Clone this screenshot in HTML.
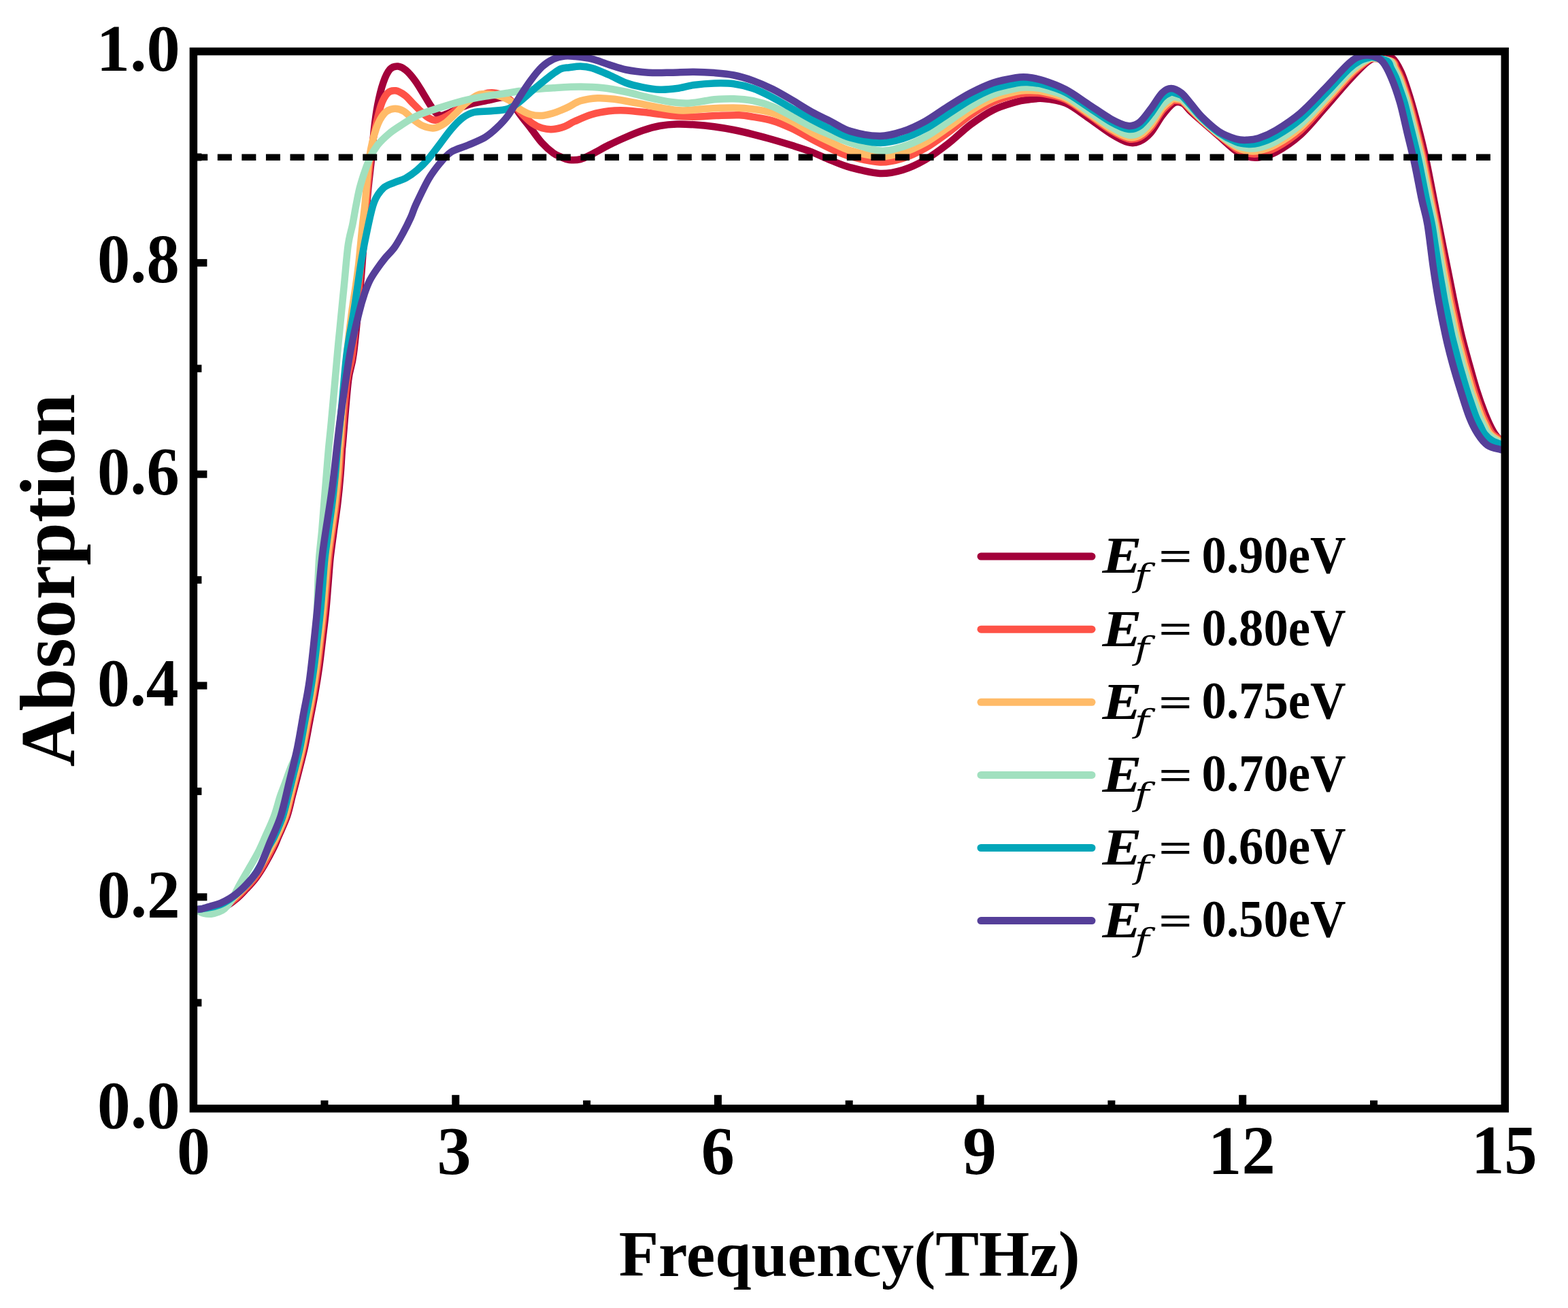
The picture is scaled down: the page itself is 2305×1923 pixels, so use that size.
<!DOCTYPE html>
<html><head><meta charset="utf-8"><title>Absorption vs Frequency</title>
<style>
html,body{margin:0;padding:0;background:#fff;}
body{width:2305px;height:1923px;overflow:hidden;}
svg{display:block;}
text{font-family:"Liberation Serif","Times New Roman",serif;fill:#000;}
</style></head>
<body>
<svg width="2305" height="1923" viewBox="0 0 2305 1923">
<rect width="2305" height="1923" fill="#fff"/>
<g fill="none" stroke-width="10.5" stroke-linejoin="round" stroke-linecap="butt">
<path d="M291.0 1337.0 C295.0 1336.8 308.3 1336.7 315.0 1336.0 C321.7 1335.3 325.5 1335.5 331.0 1333.0 C336.5 1330.5 342.8 1325.3 348.0 1321.0 C353.2 1316.7 357.3 1312.0 362.0 1307.0 C366.7 1302.0 371.5 1297.0 376.0 1291.0 C380.5 1285.0 384.7 1278.3 389.0 1271.0 C393.3 1263.7 398.6 1253.8 402.0 1247.0 C405.4 1240.2 406.0 1237.8 409.3 1230.0 C412.6 1222.2 418.5 1210.0 422.0 1200.0 C425.4 1190.0 427.2 1180.0 429.8 1170.0 C432.4 1160.0 434.6 1151.7 437.6 1140.0 C440.5 1128.3 444.6 1113.3 447.6 1100.0 C450.5 1086.7 452.7 1073.3 455.3 1060.0 C457.8 1046.7 460.6 1033.3 462.9 1020.0 C465.3 1006.7 467.4 993.3 469.3 980.0 C471.1 966.7 472.6 953.3 474.2 940.0 C475.8 926.7 477.6 913.3 478.9 900.0 C480.3 886.7 481.2 873.3 482.3 860.0 C483.4 846.7 484.2 833.3 485.6 820.0 C487.1 806.7 489.1 793.3 490.8 780.0 C492.6 766.7 494.7 753.3 496.3 740.0 C497.9 726.7 499.2 713.3 500.3 700.0 C501.5 686.7 502.4 668.3 503.0 660.0 C503.6 651.7 502.5 666.7 504.0 650.0 C505.5 633.3 509.4 581.7 512.0 560.0 C514.6 538.3 516.8 543.1 519.8 519.7 C522.8 496.4 527.1 449.8 529.8 419.9 C532.5 389.9 534.1 363.3 536.0 340.0 C537.9 316.7 539.2 298.7 541.0 280.0 C542.8 261.3 545.2 243.0 546.7 228.0 C548.2 213.0 548.6 202.2 550.0 190.0 C551.4 177.8 552.8 166.4 555.0 155.0 C557.2 143.6 560.2 130.6 563.3 121.7 C566.3 112.8 569.7 105.7 573.3 101.7 C576.9 97.7 581.1 97.2 585.0 97.5 C588.9 97.8 592.5 99.8 596.7 103.3 C600.9 106.8 605.8 112.7 610.0 118.3 C614.2 123.9 618.1 130.9 621.7 136.7 C625.3 142.5 628.7 148.6 631.7 153.3 C634.8 158.0 637.2 162.2 640.0 165.0 C642.8 167.8 645.0 169.8 648.3 170.0 C651.6 170.2 654.7 168.2 660.0 166.0 C665.3 163.8 673.9 159.4 680.0 157.0 C686.1 154.6 689.8 153.4 696.7 151.7 C703.7 150.0 714.8 148.1 721.7 146.7 C728.6 145.3 733.6 143.2 738.3 143.3 C743.0 143.4 745.8 143.1 750.0 147.0 C754.2 150.9 758.3 159.8 763.3 166.7 C768.3 173.6 774.4 181.1 780.0 188.3 C785.6 195.5 791.2 203.9 796.7 210.0 C802.2 216.1 808.6 221.5 813.3 225.0 C818.0 228.5 821.1 229.3 825.0 231.0 C828.9 232.7 832.0 234.5 836.7 235.0 C841.4 235.5 847.8 235.6 853.3 234.2 C858.8 232.8 863.0 230.2 870.0 226.7 C877.0 223.2 886.7 217.5 895.0 213.3 C903.3 209.1 911.7 205.3 920.0 201.7 C928.3 198.1 936.7 194.5 945.0 191.7 C953.3 188.9 961.7 186.5 970.0 185.0 C978.3 183.5 986.7 182.8 995.0 182.5 C1003.3 182.2 1010.8 182.7 1020.0 183.3 C1029.2 183.9 1040.2 184.9 1050.0 186.2 C1059.8 187.5 1069.1 189.1 1078.6 191.0 C1088.1 192.9 1097.6 195.2 1107.1 197.6 C1116.6 200.0 1126.2 202.5 1135.7 205.2 C1145.2 207.9 1154.8 210.8 1164.3 213.8 C1173.8 216.8 1183.4 219.7 1192.9 223.3 C1202.4 227.0 1211.9 231.9 1221.4 235.7 C1230.9 239.5 1238.0 243.0 1250.0 246.2 C1262.0 249.4 1280.5 254.4 1293.3 255.0 C1306.1 255.6 1315.6 253.3 1326.7 250.0 C1337.8 246.7 1348.9 241.4 1360.0 235.0 C1371.1 228.6 1382.2 220.3 1393.3 211.7 C1404.4 203.1 1415.6 191.6 1426.7 183.3 C1437.8 175.0 1448.9 167.2 1460.0 161.7 C1471.1 156.1 1485.0 152.5 1493.3 150.0 C1501.6 147.5 1503.3 147.5 1510.0 146.7 C1516.7 145.9 1523.8 144.2 1533.3 145.0 C1542.8 145.8 1555.6 147.0 1566.7 151.7 C1577.8 156.4 1588.9 165.8 1600.0 173.3 C1611.1 180.8 1623.6 190.7 1633.3 196.7 C1643.0 202.7 1651.3 207.3 1658.3 209.2 C1665.2 211.1 1669.4 210.4 1675.0 208.0 C1680.6 205.6 1686.2 201.3 1691.7 195.0 C1697.2 188.7 1702.8 177.2 1708.3 170.0 C1713.8 162.8 1720.0 154.8 1725.0 151.7 C1730.0 148.6 1734.1 149.8 1738.3 151.7 C1742.5 153.6 1745.3 158.9 1750.0 163.3 C1754.7 167.7 1759.8 172.2 1766.7 178.3 C1773.7 184.4 1783.4 192.8 1791.7 200.0 C1800.0 207.2 1809.8 216.7 1816.7 221.7 C1823.6 226.7 1827.8 228.4 1833.3 230.0 C1838.8 231.6 1842.9 232.6 1850.0 231.5 C1857.1 230.4 1865.5 229.1 1875.7 223.6 C1885.9 218.1 1899.5 209.3 1911.4 198.6 C1923.3 187.9 1935.2 172.7 1947.1 159.3 C1959.0 145.9 1972.5 129.5 1982.9 118.2 C1993.3 106.9 2002.2 97.4 2009.6 91.4 C2017.0 85.5 2021.5 83.7 2027.5 82.5 C2033.5 81.3 2040.1 80.4 2045.4 84.3 C2050.8 88.2 2055.2 96.2 2059.6 105.7 C2064.0 115.2 2067.9 128.0 2072.1 141.4 C2076.3 154.8 2080.7 171.2 2084.6 186.1 C2088.5 201.0 2091.8 214.3 2095.4 230.7 C2099.0 247.1 2102.8 267.8 2106.1 284.3 C2109.4 300.9 2111.5 312.1 2115.0 330.0 C2118.5 347.9 2123.4 372.8 2127.2 391.6 C2130.9 410.4 2134.1 426.6 2137.5 443.0 C2140.9 459.4 2144.4 475.9 2147.8 490.3 C2151.2 504.7 2154.3 515.6 2158.1 529.3 C2161.9 543.0 2166.3 559.5 2170.4 572.5 C2174.5 585.5 2178.6 597.1 2182.7 607.4 C2186.8 617.7 2191.3 627.6 2195.1 634.1 C2198.9 640.6 2202.2 644.1 2205.3 646.4 C2208.5 648.7 2212.6 647.7 2214.0 648.0" stroke="#a3003a"/>
<path d="M291.0 1337.0 C294.8 1336.8 307.5 1336.8 314.0 1336.0 C320.5 1335.2 324.5 1335.2 330.0 1332.5 C335.5 1329.8 341.8 1324.4 347.0 1320.0 C352.2 1315.6 356.3 1311.0 361.0 1306.0 C365.7 1301.0 370.5 1296.0 375.0 1290.0 C379.5 1284.0 383.8 1277.2 388.0 1270.0 C392.2 1262.8 396.7 1253.7 400.0 1247.0 C403.3 1240.3 404.4 1237.8 407.8 1230.0 C411.2 1222.2 417.0 1210.0 420.4 1200.0 C423.8 1190.0 425.6 1180.0 428.1 1170.0 C430.7 1160.0 432.9 1151.7 435.8 1140.0 C438.7 1128.3 442.8 1113.3 445.7 1100.0 C448.6 1086.7 450.7 1073.3 453.2 1060.0 C455.8 1046.7 458.5 1033.3 460.8 1020.0 C463.1 1006.7 465.2 993.3 467.0 980.0 C468.8 966.7 470.2 953.3 471.8 940.0 C473.4 926.7 475.1 913.3 476.4 900.0 C477.8 886.7 478.8 873.3 479.9 860.0 C481.1 846.7 481.9 833.3 483.4 820.0 C484.8 806.7 486.8 793.3 488.7 780.0 C490.5 766.7 492.6 753.3 494.2 740.0 C495.8 726.7 497.2 713.3 498.3 700.0 C499.5 686.7 500.4 668.3 501.0 660.0 C501.6 651.7 500.5 666.7 502.0 650.0 C503.5 633.3 507.3 581.7 510.0 560.0 C512.7 538.3 515.0 543.3 518.0 520.0 C521.0 496.7 525.2 450.0 528.0 420.0 C530.8 390.0 533.0 363.3 535.0 340.0 C537.0 316.7 538.3 298.3 540.0 280.0 C541.7 261.7 543.3 243.9 545.0 230.0 C546.7 216.1 547.5 209.2 550.0 196.7 C552.5 184.2 556.7 165.0 560.0 155.0 C563.3 145.0 566.4 140.3 570.0 136.7 C573.6 133.1 577.5 132.8 581.7 133.3 C585.9 133.9 590.8 136.9 595.0 140.0 C599.2 143.1 602.8 147.8 606.7 151.7 C610.6 155.6 614.4 159.7 618.3 163.3 C622.2 166.9 626.4 171.1 630.0 173.3 C633.6 175.5 636.4 176.7 640.0 176.7 C643.6 176.7 647.8 175.0 651.7 173.3 C655.6 171.6 658.6 169.8 663.3 166.7 C668.0 163.6 674.7 158.7 680.0 155.0 C685.3 151.3 690.0 147.2 695.0 144.5 C700.0 141.8 705.3 139.9 710.0 138.5 C714.7 137.1 718.5 136.2 723.0 136.3 C727.5 136.4 733.2 137.8 737.0 139.0 C740.8 140.2 743.0 141.5 746.0 143.7 C749.0 145.9 751.8 148.4 755.0 152.0 C758.2 155.6 760.5 160.2 765.0 165.0 C769.5 169.8 776.7 177.1 782.0 181.0 C787.3 184.9 791.5 186.8 796.7 188.3 C801.9 189.8 807.8 190.4 813.3 190.0 C818.8 189.6 824.7 187.9 830.0 186.0 C835.3 184.1 838.3 181.2 845.0 178.3 C851.7 175.4 861.7 170.8 870.0 168.3 C878.3 165.8 886.7 164.3 895.0 163.3 C903.3 162.3 910.3 162.1 920.0 162.5 C929.7 162.9 942.2 164.6 953.3 165.8 C964.4 167.1 975.6 169.0 986.7 170.0 C997.8 171.0 1008.9 171.7 1020.0 171.7 C1031.1 171.7 1042.2 170.4 1053.3 170.0 C1064.4 169.6 1077.7 168.9 1086.7 169.2 C1095.7 169.5 1098.9 170.5 1107.1 171.9 C1115.3 173.3 1126.2 174.8 1135.7 177.6 C1145.2 180.4 1154.8 184.6 1164.3 189.0 C1173.8 193.4 1183.4 199.4 1192.9 204.3 C1202.4 209.2 1211.9 214.3 1221.4 218.6 C1230.9 222.9 1238.0 226.7 1250.0 230.0 C1262.0 233.3 1280.5 238.0 1293.3 238.5 C1306.1 239.0 1315.6 236.4 1326.7 233.0 C1337.8 229.6 1348.9 224.3 1360.0 218.0 C1371.1 211.7 1382.2 203.3 1393.3 195.2 C1404.4 187.1 1415.6 176.9 1426.7 169.3 C1437.8 161.7 1448.9 154.7 1460.0 149.7 C1471.1 144.7 1485.0 141.4 1493.3 139.3 C1501.6 137.2 1503.3 137.3 1510.0 137.0 C1516.7 136.8 1523.8 136.0 1533.3 137.6 C1542.8 139.2 1555.6 141.4 1566.7 146.5 C1577.8 151.7 1588.9 160.9 1600.0 168.5 C1611.1 176.0 1623.6 185.9 1633.3 191.9 C1643.0 197.8 1651.3 202.4 1658.3 204.1 C1665.2 205.8 1669.4 204.9 1675.0 202.1 C1680.6 199.4 1686.2 194.2 1691.7 187.7 C1697.2 181.2 1703.3 169.4 1708.3 163.1 C1713.3 156.8 1718.9 152.7 1721.7 150.1 C1724.5 147.5 1722.5 147.8 1725.0 147.5 C1727.5 147.3 1734.5 148.4 1736.7 148.6 C1738.9 148.9 1736.1 146.9 1738.3 149.0 C1740.5 151.0 1745.3 156.3 1750.0 160.9 C1754.7 165.6 1759.8 170.7 1766.7 177.0 C1773.7 183.2 1783.4 191.8 1791.7 198.6 C1800.0 205.5 1809.8 213.8 1816.7 218.2 C1823.6 222.6 1827.8 223.9 1833.3 225.1 C1838.8 226.4 1842.9 227.2 1850.0 225.9 C1857.1 224.5 1865.5 222.8 1875.7 217.2 C1885.9 211.6 1899.5 202.8 1911.4 192.3 C1923.3 181.7 1935.2 166.9 1947.1 153.7 C1959.0 140.6 1974.0 122.9 1982.9 113.4 C1991.8 103.9 1996.2 100.9 2000.7 96.9 C2005.2 93.0 2006.6 91.5 2009.6 89.7 C2012.6 87.9 2012.5 86.0 2018.6 86.1 C2024.7 86.1 2040.6 87.7 2046.3 90.0 C2051.9 92.3 2050.3 95.8 2052.5 100.0 C2054.8 104.2 2057.7 110.0 2059.7 115.0 C2061.8 120.0 2063.0 124.2 2065.0 130.0 C2066.9 135.8 2069.3 142.5 2071.5 150.0 C2073.7 157.5 2076.1 166.7 2078.3 175.0 C2080.5 183.3 2082.4 190.8 2084.7 200.0 C2087.0 209.2 2089.7 220.0 2091.9 230.0 C2094.2 240.0 2095.9 249.5 2098.0 260.0 C2100.1 270.5 2102.3 281.3 2104.6 293.0 C2106.9 304.7 2109.9 318.8 2112.0 330.0 C2114.2 341.2 2115.7 349.7 2117.6 360.0 C2119.5 370.3 2121.7 382.0 2123.6 392.0 C2125.5 402.0 2127.4 411.5 2129.0 420.0 C2130.6 428.5 2131.7 434.7 2133.4 443.0 C2135.1 451.3 2137.4 461.5 2139.2 470.0 C2141.1 478.5 2142.7 486.5 2144.5 494.0 C2146.3 501.5 2148.2 508.2 2150.0 515.0 C2151.8 521.8 2153.5 528.3 2155.3 535.0 C2157.2 541.7 2159.1 548.2 2161.1 555.0 C2163.1 561.8 2165.2 569.3 2167.3 576.0 C2169.5 582.7 2171.7 588.8 2173.9 595.0 C2176.2 601.2 2178.6 607.8 2180.7 613.0 C2182.9 618.2 2184.7 621.8 2186.8 626.0 C2189.0 630.2 2190.1 634.3 2193.7 638.0 C2197.2 641.7 2204.7 645.9 2208.1 648.0 C2211.5 650.1 2213.0 650.0 2214.0 650.3" stroke="#fe5247"/>
<path d="M291.0 1337.0 C294.5 1336.8 305.8 1336.4 312.0 1335.5 C318.2 1334.6 322.5 1334.2 328.0 1331.5 C333.5 1328.8 339.8 1323.4 345.0 1319.0 C350.2 1314.6 354.3 1310.0 359.0 1305.0 C363.7 1300.0 368.5 1295.2 373.0 1289.0 C377.5 1282.8 381.8 1275.2 386.0 1268.0 C390.2 1260.8 394.6 1252.3 398.0 1246.0 C401.4 1239.7 402.8 1237.7 406.3 1230.0 C409.8 1222.3 415.4 1210.0 418.8 1200.0 C422.2 1190.0 424.0 1180.0 426.6 1170.0 C429.1 1160.0 431.3 1151.7 434.2 1140.0 C437.1 1128.3 441.1 1113.3 444.0 1100.0 C446.9 1086.7 449.0 1073.3 451.5 1060.0 C454.0 1046.7 456.7 1033.3 459.0 1020.0 C461.3 1006.7 463.3 993.3 465.1 980.0 C466.9 966.7 468.3 953.3 469.9 940.0 C471.4 926.7 473.1 913.3 474.4 900.0 C475.8 886.7 476.8 873.3 477.9 860.0 C479.1 846.7 479.9 833.3 481.4 820.0 C482.8 806.7 484.8 793.3 486.7 780.0 C488.5 766.7 490.6 753.3 492.2 740.0 C493.8 726.7 495.2 713.3 496.3 700.0 C497.5 686.7 498.4 668.3 499.0 660.0 C499.6 651.7 499.0 663.3 500.0 650.0 C501.0 636.7 503.3 601.7 505.0 580.0 C506.7 558.3 508.0 540.0 510.0 520.0 C512.0 500.0 514.8 476.7 517.0 460.0 C519.2 443.3 521.3 431.7 523.0 420.0 C524.7 408.3 525.8 400.0 527.0 390.0 C528.2 380.0 529.0 370.0 530.0 360.0 C531.0 350.0 531.9 340.0 533.0 330.0 C534.1 320.0 534.8 316.7 536.5 300.0 C538.2 283.3 540.5 248.6 543.3 230.0 C546.1 211.4 549.7 198.9 553.3 188.3 C556.9 177.8 560.8 171.4 565.0 166.7 C569.2 162.0 573.6 160.6 578.3 160.0 C583.0 159.4 588.6 160.8 593.3 163.3 C598.0 165.8 602.0 171.4 606.7 175.0 C611.4 178.6 616.4 182.8 621.7 185.0 C627.0 187.2 633.0 188.9 638.3 188.3 C643.6 187.8 648.3 185.0 653.3 181.7 C658.3 178.4 663.0 173.3 668.3 168.3 C673.6 163.3 679.4 156.4 685.0 151.7 C690.6 147.0 697.2 142.2 701.7 140.0 C706.2 137.8 708.1 138.5 712.0 138.3 C715.9 138.1 720.7 138.3 725.0 139.0 C729.3 139.7 733.8 140.9 738.0 142.5 C742.2 144.1 745.8 145.4 750.0 148.3 C754.2 151.2 758.3 156.7 763.3 160.0 C768.3 163.3 774.4 166.6 780.0 168.3 C785.6 170.0 791.4 170.3 796.7 170.0 C802.0 169.7 807.3 168.0 812.0 166.7 C816.7 165.4 820.9 163.7 825.0 162.0 C829.1 160.3 832.0 159.0 836.7 156.7 C841.4 154.4 846.4 150.4 853.3 148.3 C860.2 146.2 870.0 144.6 878.3 144.2 C886.6 143.8 893.6 144.6 903.3 145.8 C913.0 147.1 925.6 149.6 936.7 151.7 C947.8 153.8 958.9 156.5 970.0 158.3 C981.1 160.1 992.2 162.2 1003.3 162.5 C1014.4 162.8 1024.2 160.7 1036.7 160.0 C1049.2 159.3 1066.9 158.5 1078.6 158.6 C1090.3 158.7 1097.6 159.2 1107.1 160.5 C1116.6 161.8 1126.2 163.2 1135.7 166.2 C1145.2 169.2 1154.8 173.8 1164.3 178.6 C1173.8 183.4 1183.4 189.7 1192.9 194.8 C1202.4 199.9 1211.9 204.6 1221.4 209.0 C1230.9 213.4 1238.0 217.9 1250.0 221.4 C1262.0 224.9 1280.5 229.5 1293.3 230.0 C1306.1 230.5 1315.6 227.9 1326.7 224.5 C1337.8 221.2 1348.9 216.0 1360.0 209.9 C1371.1 203.7 1382.2 195.4 1393.3 187.6 C1404.4 179.9 1415.6 170.3 1426.7 163.2 C1437.8 156.0 1448.9 149.4 1460.0 144.7 C1471.1 140.0 1485.0 136.9 1493.3 135.0 C1501.6 133.0 1503.3 133.2 1510.0 133.1 C1516.7 133.1 1523.8 132.6 1533.3 134.5 C1542.8 136.4 1555.6 139.0 1566.7 144.3 C1577.8 149.6 1588.9 158.8 1600.0 166.3 C1611.1 173.9 1623.6 183.7 1633.3 189.6 C1643.0 195.5 1651.3 200.1 1658.3 201.7 C1665.2 203.3 1669.4 202.2 1675.0 199.2 C1680.6 196.3 1686.2 190.6 1691.7 183.9 C1697.2 177.3 1703.3 165.5 1708.3 159.3 C1713.3 153.2 1718.9 149.5 1721.7 147.1 C1724.5 144.8 1722.5 145.2 1725.0 145.1 C1727.5 145.1 1734.5 146.4 1736.7 146.8 C1738.9 147.2 1736.1 145.3 1738.3 147.4 C1740.5 149.5 1745.3 154.7 1750.0 159.5 C1754.7 164.3 1759.8 169.7 1766.7 176.1 C1773.7 182.5 1783.4 191.1 1791.7 197.7 C1800.0 204.3 1809.8 211.7 1816.7 215.7 C1823.6 219.7 1827.8 220.6 1833.3 221.6 C1838.8 222.6 1842.9 223.1 1850.0 221.6 C1857.1 220.1 1865.5 218.2 1875.7 212.5 C1885.9 206.9 1899.5 198.2 1911.4 187.8 C1923.3 177.3 1935.2 162.8 1947.1 149.9 C1959.0 137.0 1974.0 119.4 1982.9 110.2 C1991.8 101.0 1996.2 98.3 2000.7 94.7 C2005.2 91.1 2006.6 90.1 2009.6 88.6 C2012.6 87.1 2012.8 85.3 2018.6 85.5 C2024.4 85.8 2039.0 87.6 2044.3 90.0 C2049.6 92.4 2048.1 95.8 2050.3 100.0 C2052.6 104.2 2055.6 110.0 2057.7 115.0 C2059.8 120.0 2060.9 124.2 2062.9 130.0 C2064.9 135.8 2067.3 142.5 2069.5 150.0 C2071.7 157.5 2074.0 166.7 2076.2 175.0 C2078.4 183.3 2080.3 190.8 2082.5 200.0 C2084.8 209.2 2087.5 220.0 2089.8 230.0 C2092.0 240.0 2093.8 249.5 2095.9 260.0 C2098.0 270.5 2100.1 281.3 2102.4 293.0 C2104.8 304.7 2107.9 318.8 2110.1 330.0 C2112.2 341.2 2113.6 349.7 2115.4 360.0 C2117.3 370.3 2119.3 382.0 2121.1 392.0 C2123.0 402.0 2124.8 411.5 2126.4 420.0 C2128.0 428.5 2129.0 434.7 2130.7 443.0 C2132.4 451.3 2134.6 461.5 2136.5 470.0 C2138.3 478.5 2139.9 486.5 2141.7 494.0 C2143.5 501.5 2145.3 508.2 2147.1 515.0 C2148.9 521.8 2150.6 528.3 2152.4 535.0 C2154.3 541.7 2156.2 548.2 2158.2 555.0 C2160.2 561.8 2162.3 569.3 2164.4 576.0 C2166.6 582.7 2168.8 588.8 2171.0 595.0 C2173.2 601.2 2175.6 607.8 2177.7 613.0 C2179.8 618.2 2181.7 621.8 2183.8 626.0 C2186.0 630.2 2187.2 634.3 2190.6 638.0 C2193.9 641.7 2200.2 645.7 2204.1 648.0 C2208.0 650.3 2212.4 651.2 2214.0 651.9" stroke="#ffbb68"/>
<path d="M291.0 1339.0 C292.5 1339.7 296.8 1342.2 300.0 1343.0 C303.2 1343.8 307.0 1344.0 310.5 1343.7 C314.0 1343.4 317.6 1342.3 320.8 1341.0 C324.1 1339.7 326.8 1338.8 330.0 1336.0 C333.2 1333.2 336.4 1329.7 340.0 1324.0 C343.6 1318.3 347.4 1309.7 351.6 1302.0 C355.8 1294.3 360.7 1286.0 365.3 1278.0 C369.9 1270.0 374.9 1262.0 379.0 1254.0 C383.1 1246.0 386.0 1239.0 390.0 1230.0 C394.0 1221.0 399.2 1210.0 402.9 1200.0 C406.6 1190.0 409.3 1178.3 412.1 1170.0 C414.9 1161.7 417.1 1156.7 419.6 1150.0 C422.1 1143.3 423.6 1138.3 426.9 1130.0 C430.1 1121.7 435.7 1111.7 439.0 1100.0 C442.3 1088.3 444.1 1073.3 446.6 1060.0 C449.1 1046.7 452.0 1033.3 454.2 1020.0 C456.4 1006.7 458.2 993.3 459.6 980.0 C461.1 966.7 461.8 953.3 462.9 940.0 C463.9 926.7 465.2 913.3 465.9 900.0 C466.7 886.7 466.8 873.3 467.3 860.0 C467.9 846.7 468.3 833.3 469.2 820.0 C470.2 806.7 472.0 793.3 473.2 780.0 C474.3 766.7 475.3 753.3 476.4 740.0 C477.5 726.7 478.6 713.3 479.7 700.0 C480.8 686.7 481.8 673.3 483.0 660.0 C484.2 646.7 484.8 643.3 487.0 620.0 C489.2 596.7 493.9 543.4 496.0 520.0 C498.1 496.6 498.3 496.5 499.9 479.8 C501.5 463.1 503.8 439.9 505.8 419.9 C507.8 399.9 509.7 375.0 511.8 360.0 C513.9 345.0 516.3 340.0 518.3 330.0 C520.3 320.0 521.8 309.7 523.8 300.0 C525.8 290.3 526.8 282.8 530.0 271.7 C533.2 260.6 539.1 243.0 543.3 233.3 C547.5 223.6 550.3 219.4 555.0 213.3 C559.7 207.2 566.2 201.4 571.7 196.7 C577.2 192.0 581.4 189.4 588.3 185.0 C595.2 180.6 603.6 174.4 613.3 170.0 C623.0 165.6 635.6 161.9 646.7 158.3 C657.8 154.7 668.9 151.1 680.0 148.3 C691.1 145.5 702.2 143.6 713.3 141.7 C724.4 139.8 735.6 138.4 746.7 136.7 C757.8 135.0 768.9 132.9 780.0 131.7 C791.1 130.4 801.1 129.9 813.3 129.2 C825.5 128.5 841.1 127.5 853.3 127.5 C865.5 127.5 875.6 127.9 886.7 129.2 C897.8 130.4 908.9 132.7 920.0 135.0 C931.1 137.3 942.2 140.8 953.3 143.3 C964.4 145.8 977.0 148.6 986.7 150.0 C996.4 151.4 1003.4 152.0 1011.7 151.7 C1020.0 151.4 1030.3 149.2 1036.7 148.3 C1043.1 147.4 1043.0 146.7 1050.0 146.2 C1057.0 145.7 1069.1 144.9 1078.6 145.2 C1088.1 145.5 1097.6 146.2 1107.1 148.1 C1116.6 150.0 1126.2 152.9 1135.7 156.7 C1145.2 160.5 1154.8 166.1 1164.3 171.0 C1173.8 175.9 1183.4 181.6 1192.9 186.2 C1202.4 190.8 1211.9 194.6 1221.4 198.6 C1230.9 202.6 1238.0 206.2 1250.0 210.0 C1262.0 213.8 1280.5 220.5 1293.3 221.5 C1306.1 222.4 1315.6 219.2 1326.7 215.9 C1337.8 212.5 1348.9 207.4 1360.0 201.4 C1371.1 195.3 1382.2 187.0 1393.3 179.5 C1404.4 172.0 1415.6 163.2 1426.7 156.4 C1437.8 149.7 1448.9 143.4 1460.0 139.0 C1471.1 134.6 1485.0 131.7 1493.3 130.0 C1501.6 128.2 1503.3 128.3 1510.0 128.5 C1516.7 128.6 1523.8 128.6 1533.3 130.8 C1542.8 132.9 1555.6 136.0 1566.7 141.5 C1577.8 146.9 1588.9 156.0 1600.0 163.5 C1611.1 171.0 1623.6 180.8 1633.3 186.6 C1643.0 192.4 1651.3 196.9 1658.3 198.3 C1665.2 199.8 1669.4 198.5 1675.0 195.3 C1680.6 192.0 1686.2 185.7 1691.7 178.9 C1697.2 172.2 1703.3 160.5 1708.3 154.6 C1713.3 148.7 1718.9 145.6 1721.7 143.5 C1724.5 141.4 1722.5 142.1 1725.0 142.2 C1727.5 142.4 1734.5 144.1 1736.7 144.6 C1738.9 145.2 1736.1 143.3 1738.3 145.5 C1740.5 147.7 1745.3 152.9 1750.0 157.8 C1754.7 162.7 1759.8 168.7 1766.7 175.1 C1773.7 181.6 1783.4 190.4 1791.7 196.8 C1800.0 203.1 1809.8 209.6 1816.7 213.1 C1823.6 216.6 1827.8 217.3 1833.3 218.0 C1838.8 218.7 1842.9 219.1 1850.0 217.4 C1857.1 215.7 1865.5 213.5 1875.7 207.8 C1885.9 202.1 1899.5 193.5 1911.4 183.2 C1923.3 172.9 1935.2 158.7 1947.1 145.9 C1959.0 133.2 1974.0 115.7 1982.9 106.8 C1991.8 97.9 1996.2 95.5 2000.7 92.3 C2005.2 89.1 2006.6 88.6 2009.6 87.4 C2012.6 86.2 2013.1 84.5 2018.6 85.0 C2024.1 85.4 2037.4 87.5 2042.3 90.0 C2047.3 92.5 2045.9 95.8 2048.1 100.0 C2050.3 104.2 2053.5 110.0 2055.6 115.0 C2057.7 120.0 2058.8 124.2 2060.8 130.0 C2062.8 135.8 2065.3 142.5 2067.5 150.0 C2069.7 157.5 2071.9 166.7 2074.1 175.0 C2076.2 183.3 2078.1 190.8 2080.3 200.0 C2082.6 209.2 2085.3 220.0 2087.6 230.0 C2089.8 240.0 2091.6 249.5 2093.7 260.0 C2095.9 270.5 2097.9 281.3 2100.3 293.0 C2102.7 304.7 2105.9 318.8 2108.1 330.0 C2110.2 341.2 2111.4 349.7 2113.2 360.0 C2115.0 370.3 2116.9 382.0 2118.7 392.0 C2120.4 402.0 2122.2 411.5 2123.8 420.0 C2125.4 428.5 2126.4 434.7 2128.0 443.0 C2129.7 451.3 2131.9 461.5 2133.7 470.0 C2135.5 478.5 2137.1 486.5 2138.8 494.0 C2140.6 501.5 2142.5 508.2 2144.3 515.0 C2146.0 521.8 2147.7 528.3 2149.5 535.0 C2151.3 541.7 2153.3 548.2 2155.3 555.0 C2157.3 561.8 2159.4 569.3 2161.5 576.0 C2163.7 582.7 2165.9 588.8 2168.1 595.0 C2170.3 601.2 2172.5 607.8 2174.6 613.0 C2176.8 618.2 2178.7 621.8 2180.9 626.0 C2183.0 630.2 2184.2 634.3 2187.4 638.0 C2190.7 641.7 2195.7 645.4 2200.2 648.0 C2204.6 650.6 2211.7 652.6 2214.0 653.5" stroke="#a1e0bf"/>
<path d="M291.0 1337.0 C294.2 1336.5 304.2 1335.3 310.0 1334.0 C315.8 1332.7 320.7 1331.5 326.0 1329.0 C331.3 1326.5 337.0 1322.7 342.0 1319.0 C347.0 1315.3 351.3 1311.5 356.0 1307.0 C360.7 1302.5 365.5 1297.8 370.0 1292.0 C374.5 1286.2 378.8 1279.8 383.0 1272.0 C387.2 1264.2 391.6 1252.0 395.0 1245.0 C398.4 1238.0 399.8 1237.5 403.3 1230.0 C406.7 1222.5 412.4 1210.0 415.8 1200.0 C419.1 1190.0 420.9 1180.0 423.5 1170.0 C426.0 1160.0 428.1 1151.7 431.0 1140.0 C433.9 1128.3 437.9 1113.3 440.8 1100.0 C443.7 1086.7 445.7 1073.3 448.2 1060.0 C450.7 1046.7 453.4 1033.3 455.7 1020.0 C457.9 1006.7 459.9 993.3 461.7 980.0 C463.5 966.7 464.9 953.3 466.4 940.0 C468.0 926.7 469.6 913.3 470.9 900.0 C472.3 886.7 473.2 873.3 474.3 860.0 C475.4 846.7 476.2 833.3 477.6 820.0 C479.1 806.7 481.1 793.3 482.8 780.0 C484.6 766.7 486.6 753.3 488.3 740.0 C489.9 726.7 491.4 713.3 492.7 700.0 C494.0 686.7 495.3 668.3 496.0 660.0 C496.7 651.7 495.8 661.7 497.0 650.0 C498.2 638.3 500.9 611.7 503.0 590.0 C505.1 568.3 507.0 541.4 509.8 519.7 C512.6 498.0 517.1 476.4 519.8 459.8 C522.5 443.2 523.8 433.2 525.8 419.9 C527.8 406.6 529.3 394.0 531.8 379.9 C534.2 365.8 537.5 348.8 540.5 335.0 C543.5 321.2 546.2 306.7 550.0 297.0 C553.8 287.3 558.3 281.5 563.3 276.7 C568.3 271.9 574.4 270.8 580.0 268.3 C585.6 265.8 591.2 264.8 596.7 261.7 C602.2 258.6 607.8 254.7 613.3 250.0 C618.8 245.3 624.4 239.7 630.0 233.3 C635.6 226.9 641.2 218.9 646.7 211.7 C652.2 204.5 657.8 196.4 663.3 190.0 C668.8 183.6 674.4 177.5 680.0 173.3 C685.6 169.1 689.8 166.7 696.7 165.0 C703.7 163.3 713.4 164.1 721.7 163.3 C730.0 162.5 739.8 162.2 746.7 160.0 C753.6 157.8 756.4 155.3 763.3 150.0 C770.2 144.7 780.0 135.2 788.3 128.3 C796.6 121.4 807.2 112.8 813.3 108.3 C819.4 103.8 821.1 102.5 825.0 101.0 C828.9 99.5 832.0 99.8 836.7 99.2 C841.4 98.6 847.8 97.4 853.3 97.5 C858.8 97.6 863.0 97.9 870.0 100.0 C877.0 102.1 886.7 106.4 895.0 110.0 C903.3 113.6 911.7 118.7 920.0 121.7 C928.3 124.8 936.7 126.6 945.0 128.3 C953.3 130.0 961.7 131.4 970.0 131.7 C978.3 132.0 986.7 131.1 995.0 130.0 C1003.3 128.9 1010.8 126.3 1020.0 125.0 C1029.2 123.7 1040.2 122.7 1050.0 122.4 C1059.8 122.1 1069.1 122.0 1078.6 123.3 C1088.1 124.6 1097.6 126.7 1107.1 130.0 C1116.6 133.3 1126.2 138.4 1135.7 143.3 C1145.2 148.2 1154.8 154.1 1164.3 159.5 C1173.8 164.9 1183.4 170.6 1192.9 175.7 C1202.4 180.8 1211.9 185.6 1221.4 190.0 C1230.9 194.4 1238.0 199.1 1250.0 202.4 C1262.0 205.7 1280.5 209.6 1293.3 209.9 C1306.1 210.2 1315.6 207.4 1326.7 204.0 C1337.8 200.6 1348.9 195.5 1360.0 189.5 C1371.1 183.5 1382.2 175.1 1393.3 168.0 C1404.4 160.8 1415.6 152.9 1426.7 146.6 C1437.8 140.4 1448.9 134.6 1460.0 130.6 C1471.1 126.5 1485.0 124.0 1493.3 122.4 C1501.6 120.8 1503.3 120.7 1510.0 121.0 C1516.7 121.3 1523.8 121.7 1533.3 124.2 C1542.8 126.7 1555.6 130.5 1566.7 136.0 C1577.8 141.6 1588.9 150.3 1600.0 157.5 C1611.1 164.7 1623.6 174.0 1633.3 179.4 C1643.0 184.8 1651.3 188.8 1658.3 189.8 C1665.2 190.9 1669.4 189.5 1675.0 185.7 C1680.6 182.0 1686.2 174.3 1691.7 167.3 C1697.2 160.3 1703.3 149.1 1708.3 143.8 C1713.3 138.5 1718.9 136.8 1721.7 135.5 C1724.5 134.2 1722.5 135.1 1725.0 135.9 C1727.5 136.6 1734.5 139.1 1736.7 140.0 C1738.9 140.9 1736.1 139.0 1738.3 141.4 C1740.5 143.8 1745.3 149.0 1750.0 154.3 C1754.7 159.6 1759.8 166.4 1766.7 173.2 C1773.7 180.0 1783.4 189.0 1791.7 194.9 C1800.0 200.7 1809.8 205.6 1816.7 208.4 C1823.6 211.2 1827.8 211.4 1833.3 211.7 C1838.8 212.1 1842.9 212.3 1850.0 210.4 C1857.1 208.4 1865.5 205.7 1875.7 199.9 C1885.9 194.1 1899.5 185.6 1911.4 175.5 C1923.3 165.5 1935.2 151.8 1947.1 139.4 C1959.0 127.0 1974.0 109.8 1982.9 101.3 C1991.8 92.8 1996.2 91.1 2000.7 88.5 C2005.2 85.8 2006.6 86.3 2009.6 85.5 C2012.6 84.8 2013.7 83.3 2018.6 84.0 C2023.5 84.8 2034.9 87.3 2039.3 90.0 C2043.6 92.7 2042.5 95.8 2044.7 100.0 C2046.8 104.2 2050.1 110.0 2052.3 115.0 C2054.4 120.0 2055.5 124.2 2057.5 130.0 C2059.5 135.8 2062.1 142.5 2064.3 150.0 C2066.5 157.5 2068.6 166.7 2070.7 175.0 C2072.8 183.3 2074.7 190.8 2076.9 200.0 C2079.1 209.2 2081.9 220.0 2084.1 230.0 C2086.4 240.0 2088.2 249.5 2090.3 260.0 C2092.5 270.5 2094.5 281.3 2096.9 293.0 C2099.3 304.7 2102.8 318.8 2104.9 330.0 C2107.1 341.2 2108.0 349.7 2109.7 360.0 C2111.3 370.3 2113.1 382.0 2114.8 392.0 C2116.4 402.0 2118.2 411.5 2119.7 420.0 C2121.2 428.5 2122.1 434.7 2123.7 443.0 C2125.3 451.3 2127.5 461.5 2129.3 470.0 C2131.1 478.5 2132.6 486.5 2134.3 494.0 C2136.1 501.5 2138.0 508.2 2139.7 515.0 C2141.5 521.8 2143.0 528.3 2144.9 535.0 C2146.7 541.7 2148.7 548.2 2150.7 555.0 C2152.7 561.8 2154.9 569.3 2157.0 576.0 C2159.1 582.7 2161.3 588.8 2163.4 595.0 C2165.6 601.2 2167.7 607.8 2169.8 613.0 C2171.9 618.2 2174.0 621.8 2176.1 626.0 C2178.2 630.2 2179.5 634.3 2182.5 638.0 C2185.5 641.7 2188.6 645.0 2193.9 648.0 C2199.1 651.0 2210.6 654.6 2214.0 655.9" stroke="#01a6b9"/>
<path d="M290.0 1337.0 C291.1 1336.9 293.4 1337.0 296.8 1336.2 C300.2 1335.4 305.9 1333.4 310.5 1332.0 C315.1 1330.6 319.6 1329.7 324.2 1327.8 C328.8 1325.9 333.3 1323.6 337.9 1320.8 C342.5 1318.0 347.0 1314.8 351.6 1310.8 C356.2 1306.8 360.7 1302.2 365.3 1297.1 C369.9 1292.0 375.0 1286.6 379.0 1280.0 C383.0 1273.4 386.3 1264.4 389.3 1257.4 C392.3 1250.4 393.1 1247.6 397.0 1238.0 C400.9 1228.4 407.9 1214.7 412.6 1200.0 C417.3 1185.3 421.0 1166.7 425.1 1150.0 C429.2 1133.3 433.5 1116.7 437.0 1100.0 C440.5 1083.3 443.0 1066.7 446.0 1050.0 C449.0 1033.3 451.8 1023.3 455.0 1000.0 C458.2 976.7 461.8 940.8 465.0 910.0 C468.2 879.2 470.2 846.7 474.0 815.0 C477.8 783.3 483.7 752.5 488.0 720.0 C492.3 687.5 495.3 653.3 499.7 620.0 C504.1 586.7 509.8 546.7 514.5 520.0 C519.2 493.3 524.2 474.5 527.8 459.8 C531.3 445.1 533.1 439.8 535.8 431.8 C538.5 423.8 540.8 417.9 543.8 411.9 C546.8 405.9 550.1 401.2 553.8 395.9 C557.5 390.6 561.5 385.2 565.8 379.9 C570.1 374.6 575.5 369.9 579.8 363.9 C584.1 357.9 587.7 351.2 591.7 343.9 C595.7 336.6 600.4 327.3 603.7 320.0 C607.0 312.7 607.3 309.4 611.7 300.0 C616.1 290.6 624.2 273.3 630.0 263.3 C635.8 253.3 641.2 246.7 646.7 240.0 C652.2 233.3 656.4 227.8 663.3 223.3 C670.2 218.9 680.0 216.9 688.3 213.3 C696.6 209.7 706.3 205.9 713.3 201.7 C720.2 197.5 724.4 193.6 730.0 188.3 C735.6 183.0 741.2 177.5 746.7 170.0 C752.2 162.5 757.8 151.9 763.3 143.3 C768.8 134.7 774.4 125.8 780.0 118.3 C785.6 110.8 791.2 103.5 796.7 98.3 C802.2 93.1 807.8 89.6 813.3 87.0 C818.8 84.4 824.7 83.2 830.0 82.5 C835.3 81.8 838.3 82.3 845.0 83.0 C851.7 83.7 861.7 84.7 870.0 86.7 C878.3 88.7 886.7 92.4 895.0 95.0 C903.3 97.6 910.3 100.5 920.0 102.5 C929.7 104.5 942.2 106.0 953.3 106.7 C964.4 107.4 975.6 106.9 986.7 106.7 C997.8 106.5 1009.5 105.7 1020.0 105.8 C1030.5 105.9 1040.2 106.3 1050.0 107.1 C1059.8 107.9 1069.1 108.6 1078.6 110.5 C1088.1 112.4 1097.6 115.2 1107.1 118.6 C1116.6 122.0 1126.2 126.2 1135.7 131.0 C1145.2 135.8 1154.8 141.5 1164.3 147.1 C1173.8 152.7 1183.4 159.1 1192.9 164.3 C1202.4 169.6 1211.9 173.8 1221.4 178.6 C1230.9 183.4 1238.0 189.3 1250.0 192.9 C1262.0 196.5 1280.5 199.9 1293.3 200.0 C1306.1 200.1 1315.6 196.9 1326.7 193.3 C1337.8 189.7 1348.9 184.4 1360.0 178.3 C1371.1 172.2 1382.2 163.6 1393.3 156.7 C1404.4 149.8 1415.6 142.5 1426.7 136.7 C1437.8 130.9 1448.9 125.5 1460.0 121.7 C1471.1 118.0 1485.0 115.6 1493.3 114.2 C1501.6 112.8 1503.3 112.8 1510.0 113.5 C1516.7 114.2 1523.8 115.3 1533.3 118.3 C1542.8 121.3 1555.6 125.9 1566.7 131.7 C1577.8 137.5 1588.9 146.1 1600.0 153.3 C1611.1 160.5 1623.6 169.7 1633.3 175.0 C1643.0 180.3 1651.3 184.2 1658.3 185.0 C1665.2 185.8 1669.4 184.2 1675.0 180.0 C1680.6 175.8 1686.2 167.2 1691.7 160.0 C1697.2 152.8 1703.3 141.7 1708.3 136.7 C1713.3 131.7 1717.0 130.0 1721.7 130.0 C1726.4 130.0 1732.0 133.1 1736.7 136.7 C1741.4 140.3 1745.0 145.9 1750.0 151.7 C1755.0 157.5 1759.8 164.8 1766.7 171.7 C1773.7 178.6 1783.4 187.9 1791.7 193.3 C1800.0 198.7 1809.8 202.1 1816.7 204.2 C1823.6 206.3 1827.8 206.0 1833.3 205.8 C1838.8 205.7 1842.9 205.7 1850.0 203.3 C1857.1 200.9 1865.5 197.6 1875.7 191.4 C1885.9 185.2 1899.5 176.5 1911.4 166.4 C1923.3 156.3 1935.2 142.9 1947.1 130.7 C1959.0 118.5 1974.0 101.2 1982.9 93.2 C1991.8 85.2 1994.8 84.3 2000.7 82.5 C2006.7 80.7 2013.2 81.0 2018.6 82.5 C2024.0 84.0 2028.4 86.1 2032.9 91.4 C2037.4 96.8 2041.2 104.8 2045.4 114.6 C2049.6 124.4 2054.0 137.0 2057.9 150.4 C2061.8 163.8 2065.0 180.1 2068.6 195.0 C2072.2 209.9 2075.7 223.2 2079.3 239.6 C2082.9 256.0 2086.8 278.1 2090.0 293.2 C2093.2 308.3 2095.7 313.6 2098.5 330.0 C2101.3 346.4 2104.0 372.8 2106.7 391.6 C2109.4 410.4 2111.8 425.9 2114.9 443.0 C2118.0 460.1 2121.8 479.0 2125.2 494.4 C2128.6 509.8 2131.7 521.8 2135.5 535.5 C2139.3 549.2 2143.7 563.6 2147.8 576.6 C2151.9 589.6 2156.0 603.2 2160.1 613.5 C2164.2 623.8 2168.1 631.4 2172.5 638.2 C2176.9 645.1 2181.3 650.8 2186.8 654.6 C2192.3 658.4 2200.8 659.7 2205.3 660.8 C2209.8 661.9 2212.6 661.0 2214.0 661.0" stroke="#553f99"/>
</g>
<line x1="284.2" y1="231.2" x2="2200" y2="231.2" stroke="#000" stroke-width="9.5" stroke-dasharray="21 14.58"/>
<g stroke="#000" stroke-width="11" stroke-linecap="butt"><line x1="669.8" y1="1629.8" x2="669.8" y2="1609.8"/><line x1="1055.4" y1="1629.8" x2="1055.4" y2="1609.8"/><line x1="1441.1" y1="1629.8" x2="1441.1" y2="1609.8"/><line x1="1826.7" y1="1629.8" x2="1826.7" y2="1609.8"/><line x1="477.0" y1="1629.8" x2="477.0" y2="1617.8"/><line x1="862.6" y1="1629.8" x2="862.6" y2="1617.8"/><line x1="1248.2" y1="1629.8" x2="1248.2" y2="1617.8"/><line x1="1633.9" y1="1629.8" x2="1633.9" y2="1617.8"/><line x1="2019.5" y1="1629.8" x2="2019.5" y2="1617.8"/><line x1="284.4" y1="1318.8" x2="304.4" y2="1318.8"/><line x1="284.4" y1="1008.0" x2="304.4" y2="1008.0"/><line x1="284.4" y1="697.2" x2="304.4" y2="697.2"/><line x1="284.4" y1="386.4" x2="304.4" y2="386.4"/><line x1="284.4" y1="1474.2" x2="296.4" y2="1474.2"/><line x1="284.4" y1="1163.4" x2="296.4" y2="1163.4"/><line x1="284.4" y1="852.6" x2="296.4" y2="852.6"/><line x1="284.4" y1="541.8" x2="296.4" y2="541.8"/><line x1="284.4" y1="231.0" x2="296.4" y2="231.0"/></g>
<rect x="284.4" y="75.6" width="1927.9" height="1554.2" fill="none" stroke="#000" stroke-width="11.5"/>
<text transform="matrix(1.0143 0.0000 0.0000 1.0266 143.04 1658.27)" style="font-weight:bold;font-size:96px">0.0</text><text transform="matrix(1.0143 0.0000 0.0000 1.0312 143.04 1347.57)" style="font-weight:bold;font-size:96px">0.2</text><text transform="matrix(0.9965 0.0000 0.0000 1.0312 143.11 1036.77)" style="font-weight:bold;font-size:96px">0.4</text><text transform="matrix(1.0053 0.0000 0.0000 1.0312 143.08 725.97)" style="font-weight:bold;font-size:96px">0.6</text><text transform="matrix(1.0053 0.0000 0.0000 1.0484 143.08 415.35)" style="font-weight:bold;font-size:96px">0.8</text><text transform="matrix(1.0250 0.0000 0.0000 1.0156 141.80 104.38)" style="font-weight:bold;font-size:96px">1.0</text><text transform="matrix(1.0200 0.0000 0.0000 1.0437 259.92 1725.16)" style="font-weight:bold;font-size:96px">0</text><text transform="matrix(1.0439 0.0000 0.0000 1.0453 642.42 1725.25)" style="font-weight:bold;font-size:96px">3</text><text transform="matrix(1.0214 0.0000 0.0000 1.0453 1030.64 1725.25)" style="font-weight:bold;font-size:96px">6</text><text transform="matrix(1.0333 0.0000 0.0000 1.0453 1415.20 1725.25)" style="font-weight:bold;font-size:96px">9</text><text transform="matrix(1.0274 0.0000 0.0000 1.0635 1776.08 1726.40)" style="font-weight:bold;font-size:96px">12</text><text transform="matrix(1.0083 0.0000 0.0000 1.0484 2162.93 1725.35)" style="font-weight:bold;font-size:96px">15</text><text transform="matrix(0.9960 0.0000 0.0000 0.9849 909.71 1876.00)" style="font-weight:bold;font-size:96px">Frequency(THz)</text><text transform="matrix(0.0000 -0.9863 0.9913 0.0000 108.91 1127.29)" style="font-weight:bold;font-size:115px">Absorption</text>
<line x1="1442" y1="818.1" x2="1605" y2="818.1" stroke="#a3003a" stroke-width="11" stroke-linecap="round"/><text transform="matrix(1.1447 0.0000 0.0000 1.0100 1620.50 842.40)" style="font-weight:bold;font-style:italic;font-size:76px">E</text><text transform="matrix(1.2889 0.0000 0.0000 1.0156 1667.67 862.24)" style="font-family:DejaVu Serif,serif;font-weight:normal;font-style:italic;font-size:46px">f</text><text transform="matrix(1.1571 0.0000 0.0000 0.8100 1702.97 838.35)" style="font-weight:bold;font-size:76px">=</text><text transform="matrix(0.9569 0.0000 0.0000 1.0196 1766.53 841.98)" style="font-weight:bold;font-size:76px">0.90eV</text><line x1="1442" y1="925.2" x2="1605" y2="925.2" stroke="#fe5247" stroke-width="11" stroke-linecap="round"/><text transform="matrix(1.1447 0.0000 0.0000 1.0100 1620.50 949.50)" style="font-weight:bold;font-style:italic;font-size:76px">E</text><text transform="matrix(1.2889 0.0000 0.0000 1.0156 1667.67 969.34)" style="font-family:DejaVu Serif,serif;font-weight:normal;font-style:italic;font-size:46px">f</text><text transform="matrix(1.1571 0.0000 0.0000 0.8100 1702.97 945.45)" style="font-weight:bold;font-size:76px">=</text><text transform="matrix(0.9569 0.0000 0.0000 1.0196 1766.53 949.08)" style="font-weight:bold;font-size:76px">0.80eV</text><line x1="1442" y1="1032.3" x2="1605" y2="1032.3" stroke="#ffbb68" stroke-width="11" stroke-linecap="round"/><text transform="matrix(1.1447 0.0000 0.0000 1.0100 1620.50 1056.60)" style="font-weight:bold;font-style:italic;font-size:76px">E</text><text transform="matrix(1.2889 0.0000 0.0000 1.0156 1667.67 1076.44)" style="font-family:DejaVu Serif,serif;font-weight:normal;font-style:italic;font-size:46px">f</text><text transform="matrix(1.1571 0.0000 0.0000 0.8100 1702.97 1052.55)" style="font-weight:bold;font-size:76px">=</text><text transform="matrix(0.9569 0.0000 0.0000 1.0196 1766.53 1056.18)" style="font-weight:bold;font-size:76px">0.75eV</text><line x1="1442" y1="1139.4" x2="1605" y2="1139.4" stroke="#a1e0bf" stroke-width="11" stroke-linecap="round"/><text transform="matrix(1.1447 0.0000 0.0000 1.0100 1620.50 1163.70)" style="font-weight:bold;font-style:italic;font-size:76px">E</text><text transform="matrix(1.2889 0.0000 0.0000 1.0156 1667.67 1183.54)" style="font-family:DejaVu Serif,serif;font-weight:normal;font-style:italic;font-size:46px">f</text><text transform="matrix(1.1571 0.0000 0.0000 0.8100 1702.97 1159.65)" style="font-weight:bold;font-size:76px">=</text><text transform="matrix(0.9569 0.0000 0.0000 1.0196 1766.53 1163.28)" style="font-weight:bold;font-size:76px">0.70eV</text><line x1="1442" y1="1246.5" x2="1605" y2="1246.5" stroke="#01a6b9" stroke-width="11" stroke-linecap="round"/><text transform="matrix(1.1447 0.0000 0.0000 1.0100 1620.50 1270.80)" style="font-weight:bold;font-style:italic;font-size:76px">E</text><text transform="matrix(1.2889 0.0000 0.0000 1.0156 1667.67 1290.64)" style="font-family:DejaVu Serif,serif;font-weight:normal;font-style:italic;font-size:46px">f</text><text transform="matrix(1.1571 0.0000 0.0000 0.8100 1702.97 1266.75)" style="font-weight:bold;font-size:76px">=</text><text transform="matrix(0.9569 0.0000 0.0000 1.0196 1766.53 1270.38)" style="font-weight:bold;font-size:76px">0.60eV</text><line x1="1442" y1="1353.6" x2="1605" y2="1353.6" stroke="#553f99" stroke-width="11" stroke-linecap="round"/><text transform="matrix(1.1447 0.0000 0.0000 1.0100 1620.50 1377.90)" style="font-weight:bold;font-style:italic;font-size:76px">E</text><text transform="matrix(1.2889 0.0000 0.0000 1.0156 1667.67 1397.74)" style="font-family:DejaVu Serif,serif;font-weight:normal;font-style:italic;font-size:46px">f</text><text transform="matrix(1.1571 0.0000 0.0000 0.8100 1702.97 1373.85)" style="font-weight:bold;font-size:76px">=</text><text transform="matrix(0.9569 0.0000 0.0000 1.0196 1766.53 1377.48)" style="font-weight:bold;font-size:76px">0.50eV</text>
</svg>
</body></html>
